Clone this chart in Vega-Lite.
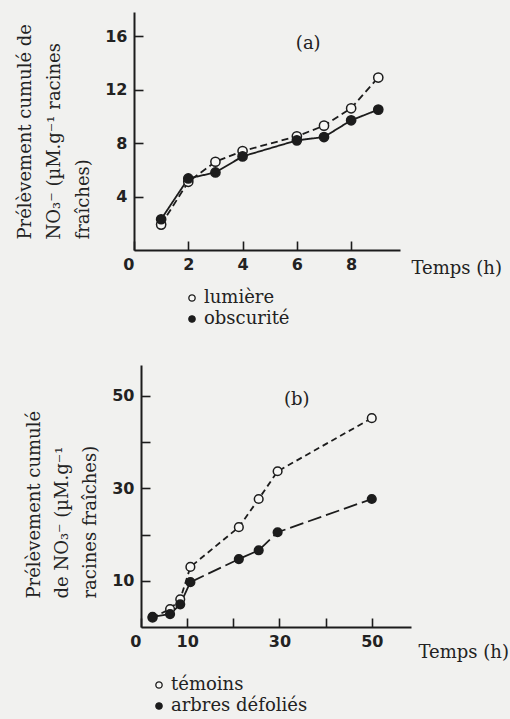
{
  "$schema": "https://vega.github.io/schema/vega-lite/v6.json",
  "background": "#f1f1ef",
  "padding": {"left": 16, "top": 12, "right": 1, "bottom": 4},
  "spacing": 37,
  "resolve": {
    "scale": {"fill": "independent", "strokeDash": "independent"},
    "legend": {"fill": "independent", "strokeDash": "independent"}
  },
  "config": {
    "view": {"stroke": null},
    "font": "DejaVu Serif",
    "axis": {
      "grid": false,
      "domainColor": "#1c1c1c",
      "domainWidth": 2,
      "tickColor": "#1c1c1c",
      "tickWidth": 1.6,
      "tickSize": -9,
      "labelFont": "DejaVu Sans",
      "labelFontWeight": "bold",
      "labelFontSize": 16,
      "labelColor": "#222222",
      "titleFont": "DejaVu Serif",
      "titleFontWeight": "normal",
      "titleFontSize": 18,
      "titleColor": "#222222"
    },
    "legend": {
      "labelFont": "DejaVu Serif",
      "labelFontSize": 18,
      "labelColor": "#222222",
      "symbolType": "circle",
      "symbolSize": 40,
      "symbolStrokeColor": "#1c1c1c",
      "symbolStrokeWidth": 1.3,
      "padding": 0,
      "rowPadding": 3,
      "labelOffset": 3
    }
  },
  "datasets": {
    "a": [
      {"t": 1, "v": 1.9, "serie": "lumière"},
      {"t": 2, "v": 5.1, "serie": "lumière"},
      {"t": 3, "v": 6.6, "serie": "lumière"},
      {"t": 4, "v": 7.4, "serie": "lumière"},
      {"t": 6, "v": 8.5, "serie": "lumière"},
      {"t": 7, "v": 9.3, "serie": "lumière"},
      {"t": 8, "v": 10.6, "serie": "lumière"},
      {"t": 9, "v": 12.9, "serie": "lumière"},
      {"t": 1, "v": 2.3, "serie": "obscurité"},
      {"t": 2, "v": 5.35, "serie": "obscurité"},
      {"t": 3, "v": 5.8, "serie": "obscurité"},
      {"t": 4, "v": 7.0, "serie": "obscurité"},
      {"t": 6, "v": 8.2, "serie": "obscurité"},
      {"t": 7, "v": 8.45, "serie": "obscurité"},
      {"t": 8, "v": 9.7, "serie": "obscurité"},
      {"t": 9, "v": 10.5, "serie": "obscurité"}
    ],
    "b": [
      {"t": 2.5, "v": 2.0, "serie": "témoins"},
      {"t": 6.3, "v": 3.9, "serie": "témoins"},
      {"t": 8.5, "v": 6.0, "serie": "témoins"},
      {"t": 10.7, "v": 13.0, "serie": "témoins"},
      {"t": 21.2, "v": 21.6, "serie": "témoins"},
      {"t": 25.5, "v": 27.7, "serie": "témoins"},
      {"t": 29.6, "v": 33.7, "serie": "témoins"},
      {"t": 50, "v": 45.2, "serie": "témoins"},
      {"t": 2.5, "v": 2.2, "serie": "arbres défoliés"},
      {"t": 6.3, "v": 2.8, "serie": "arbres défoliés"},
      {"t": 8.5, "v": 4.9, "serie": "arbres défoliés"},
      {"t": 10.7, "v": 9.7, "serie": "arbres défoliés"},
      {"t": 21.2, "v": 14.7, "serie": "arbres défoliés"},
      {"t": 25.5, "v": 16.6, "serie": "arbres défoliés"},
      {"t": 29.6, "v": 20.5, "serie": "arbres défoliés"},
      {"t": 50, "v": 27.7, "serie": "arbres défoliés"}
    ],
    "notes": [
      {"panel": "a", "t": 6.42, "v": 15.4, "label": "(a)"},
      {"panel": "b", "t": 33.75, "v": 49.1, "label": "(b)"}
    ]
  },
  "vconcat": [
    {
      "width": 266,
      "height": 238,
      "layer": [
        {
          "data": {"name": "a"},
          "mark": {"type": "line", "color": "#1c1c1c", "strokeWidth": 1.8},
          "encoding": {
            "x": {
              "field": "t", "type": "quantitative",
              "scale": {"domain": [0, 9.8], "nice": false},
              "axis": {
                "values": [0, 2, 4, 6, 8],
                "labelPadding": 15,
                "labelAlign": {"condition": {"test": "datum.value == 0", "value": "right"}, "value": "center"},
                "title": "Temps (h)",
                "titleX": 277, "titleY": 18,
                "titleAlign": "left", "titleBaseline": "middle", "titleAnchor": null
              }
            },
            "y": {
              "field": "v", "type": "quantitative",
              "scale": {"domain": [0, 17.8], "nice": false},
              "axis": {
                "values": [4, 8, 12, 16],
                "labelPadding": 16,
                "title": ["Prélèvement cumulé de", "NO₃⁻ (µM.g⁻¹ racines", "fraîches)"],
                "titleLineHeight": 29,
                "titleAlign": "left",
                "titleY": 227,
                "titlePadding": 12
              }
            },
            "strokeDash": {
              "field": "serie", "type": "nominal",
              "scale": {"domain": ["obscurité", "lumière"], "range": [[1, 0], [7, 4]]},
              "legend": null
            }
          }
        },
        {
          "data": {"name": "a"},
          "mark": {"type": "point", "filled": true, "size": 85, "stroke": "#1c1c1c", "strokeWidth": 1.5, "opacity": 1},
          "encoding": {
            "x": {"field": "t", "type": "quantitative"},
            "y": {"field": "v", "type": "quantitative"},
            "fill": {
              "field": "serie", "type": "nominal",
              "scale": {"domain": ["lumière", "obscurité"], "range": ["#f7f7f5", "#1c1c1c"]},
              "legend": {
                "orient": "none", "legendX": 49, "legendY": 277, "title": null,
                "labelFont": "DejaVu Serif", "labelFontSize": 18, "labelOffset": 3,
                "encode": {"labels": {"update": {"font": {"value": "DejaVu Serif"}, "fontWeight": {"value": "normal"}}}}
              }
            }
          }
        },
        {
          "data": {"name": "notes"},
          "transform": [{"filter": "datum.panel == 'a'"}],
          "mark": {"type": "text", "font": "DejaVu Serif", "fontSize": 18, "color": "#222222"},
          "encoding": {
            "x": {"field": "t", "type": "quantitative"},
            "y": {"field": "v", "type": "quantitative"},
            "text": {"field": "label"}
          }
        }
      ]
    },
    {
      "width": 277,
      "height": 262,
      "layer": [
        {
          "data": {"name": "b"},
          "mark": {"type": "line", "color": "#1c1c1c", "strokeWidth": 1.8},
          "encoding": {
            "x": {
              "field": "t", "type": "quantitative",
              "scale": {"domain": [0, 58.5], "nice": false, "range": [7, 277]},
              "axis": {
                "values": [0, 10, 20, 30, 40, 50],
                "labelExpr": "datum.value == 20 || datum.value == 40 ? '' : datum.label",
                "labelPadding": 15,
                "labelAlign": {"condition": {"test": "datum.value == 0", "value": "right"}, "value": "center"},
                "title": "Temps (h)",
                "titleX": 284, "titleY": 25,
                "titleAlign": "left", "titleBaseline": "middle", "titleAnchor": null
              }
            },
            "y": {
              "field": "v", "type": "quantitative",
              "scale": {"domain": [0, 56.7], "nice": false},
              "axis": {
                "values": [10, 20, 30, 40, 50],
                "labelExpr": "datum.value == 20 || datum.value == 40 ? '' : datum.label",
                "offset": -7,
                "labelPadding": 16,
                "title": ["Prélèvement cumulé", "de NO₃⁻  (µM.g⁻¹", "racines fraîches)"],
                "titleLineHeight": 28,
                "titleAlign": "left",
                "titleY": 233,
                "titlePadding": 12
              }
            },
            "strokeDash": {
              "field": "serie", "type": "nominal",
              "scale": {"domain": ["arbres défoliés", "témoins"], "range": [[14, 5], [6, 4]]},
              "legend": null
            }
          }
        },
        {
          "data": {"name": "b"},
          "mark": {"type": "point", "filled": true, "size": 75, "stroke": "#1c1c1c", "strokeWidth": 1.5, "opacity": 1},
          "encoding": {
            "x": {"field": "t", "type": "quantitative"},
            "y": {"field": "v", "type": "quantitative"},
            "fill": {
              "field": "serie", "type": "nominal",
              "scale": {"domain": ["témoins", "arbres défoliés"], "range": ["#f7f7f5", "#1c1c1c"]},
              "legend": {
                "orient": "none", "legendX": 16, "legendY": 311, "title": null,
                "labelFont": "DejaVu Serif", "labelFontSize": 18, "labelOffset": 3,
                "encode": {"labels": {"update": {"font": {"value": "DejaVu Serif"}, "fontWeight": {"value": "normal"}}}}
              }
            }
          }
        },
        {
          "data": {"name": "notes"},
          "transform": [{"filter": "datum.panel == 'b'"}],
          "mark": {"type": "text", "font": "DejaVu Serif", "fontSize": 18, "color": "#222222"},
          "encoding": {
            "x": {"field": "t", "type": "quantitative"},
            "y": {"field": "v", "type": "quantitative"},
            "text": {"field": "label"}
          }
        }
      ]
    }
  ]
}
